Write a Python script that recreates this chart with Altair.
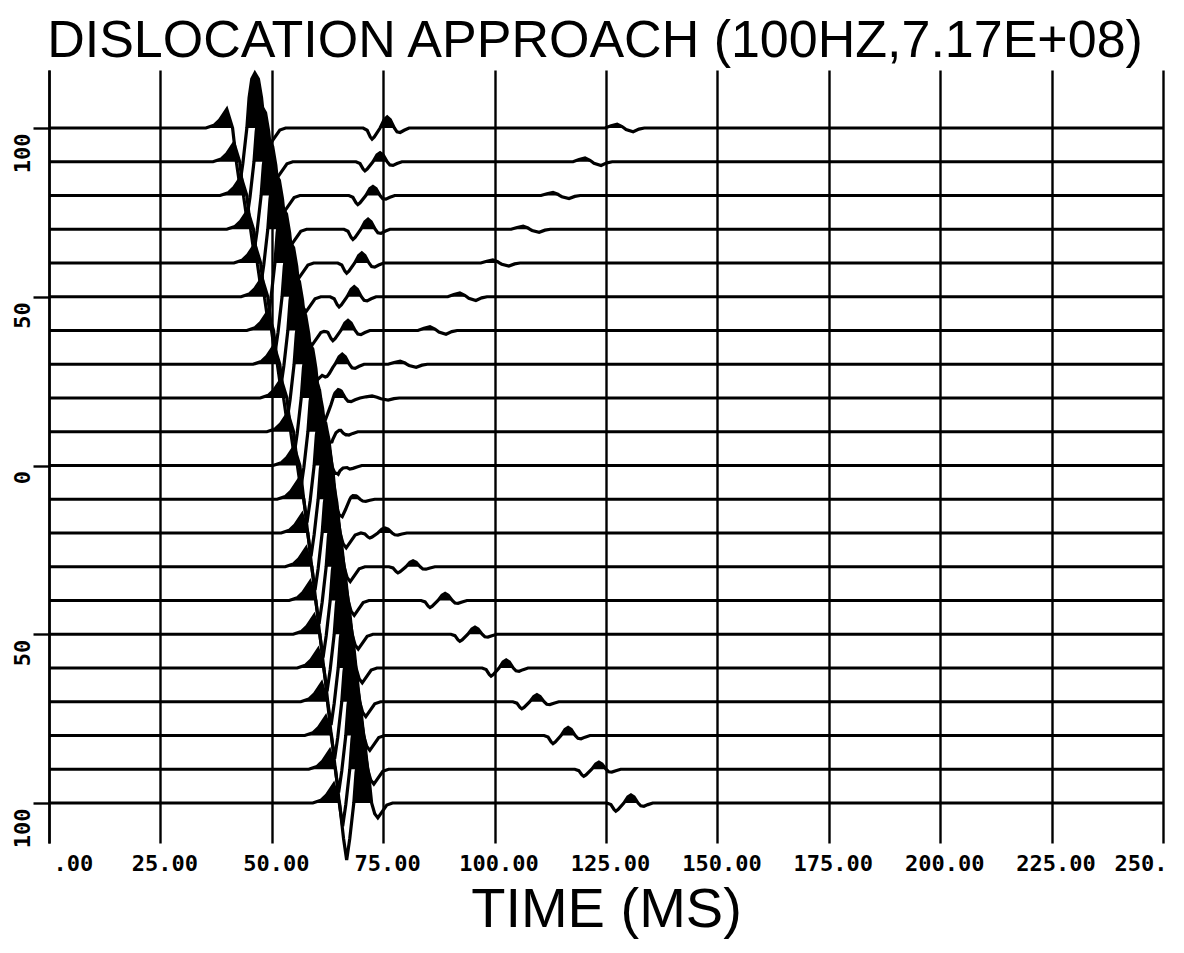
import altair as alt
import numpy as np
import pandas as pd

# trace offsets (y positions of the 21 traces)
OFFSETS = [100, 90, 80, 70, 60, 50, 40, 30, 20, 10, 0,
           -10, -20, -30, -40, -50, -60, -70, -80, -90, -100]

# main (direct) arrival: time of the big positive peak on each trace, ms
MAIN_PEAK_MS = [46.2, 47.8, 49.4, 50.9, 52.5, 54.1, 55.4, 56.8, 58.4, 59.9, 61.3,
                62.2, 63.1, 64.0, 64.9, 65.8, 66.7, 67.5, 68.4, 69.3, 70.2]
# main wavelet (time relative to peak in ms, amplitude in y units)
MAIN_W_T = [-11.0, -9.2, -7.9, -7.0, -6.3, -5.0, -4.1, -3.4, -2.7, -1.8, -1.3, -0.7,
            0.0, 0.8, 1.5, 2.2, 2.9, 3.6, 4.5, 5.6, 6.9]
MAIN_W_A = [0.0, 0.8, 2.4, 4.2, 5.6, 0.0, -10.5, -16.9, -10.5, 0.0, 9.0, 14.5,
            16.3, 14.5, 9.0, 0.0, -3.2, -4.4, -2.7, -0.6, 0.0]

# secondary arrival (trough then small filled peak): peak time and amplitude per trace
SEC_PEAK_MS = [75.9, 74.3, 72.7, 71.6, 70.2, 68.5, 67.1, 65.8, 64.9, 64.4, 65.3,
               68.2, 75.4, 81.7, 88.9, 95.6, 102.6, 109.5, 116.5, 123.4, 130.6]
SEC_AMP = [3.3, 2.7, 2.7, 3.0, 3.0, 3.0, 3.0, 3.0, 2.7, 2.4, 2.1,
           1.5, 1.5, 1.8, 2.1, 2.1, 2.4, 2.1, 2.4, 2.1, 2.4]
SEC_W_T = [-5.4, -4.5, -3.8, -3.4, -2.9, -1.6, -0.7, 0.0, 0.7, 1.6, 2.2, 2.9, 3.8, 4.9]
SEC_W_A = [0.0, -0.2, -0.8, -1.0, -0.8, 0.0, 0.75, 1.0, 0.75, 0.0, -0.35, -0.4, -0.2, 0.0]

# weak third arrival on the upper traces (bump then dip): bump time and amplitude
THIRD_PEAK_MS = [127.5, 120.3, 113.1, 106.4, 99.6, 92.2, 85.5, 78.8, 72.5]
THIRD_AMP = [1.1, 1.1, 0.9, 0.9, 0.9, 1.1, 1.1, 0.9, 0.6]
THIRD_W_T = [-2.7, -1.35, 0.0, 1.1, 2.0, 3.6, 4.9, 6.1]
THIRD_W_A = [0.0, 0.6, 1.0, 0.4, -0.4, -1.0, -0.3, 0.0]

X_TICKS = [0, 25, 50, 75, 100, 125, 150, 175, 200, 225, 250]
Y_TICKS = [100, 50, 0, -50, -100]

rows = []
for i, off in enumerate(OFFSETS):
    events = [(MAIN_PEAK_MS[i], MAIN_W_T, MAIN_W_A, 1.0),
              (SEC_PEAK_MS[i], SEC_W_T, SEC_W_A, SEC_AMP[i])]
    if i < len(THIRD_PEAK_MS):
        events.append((THIRD_PEAK_MS[i], THIRD_W_T, THIRD_W_A, THIRD_AMP[i]))
    ts = {0.0, 250.0}
    for t0, wt, wa, s in events:
        ts.update((t0 + np.array(wt)).tolist())
    ts = sorted(ts)

    def val(t):
        return sum(s * np.interp(t, t0 + np.array(wt), wa, left=0.0, right=0.0)
                   for t0, wt, wa, s in events)

    vs = [float(val(t)) for t in ts]
    pts = []
    for k in range(len(ts)):
        if k > 0 and vs[k - 1] * vs[k] < 0:
            tz = ts[k - 1] + (ts[k] - ts[k - 1]) * vs[k - 1] / (vs[k - 1] - vs[k])
            pts.append((tz, 0.0))
        pts.append((ts[k], vs[k]))
    for k, (t, v) in enumerate(pts):
        rows.append({"trace": i, "k": k, "t": t, "y": off + v,
                     "top": off + max(v, 0.0), "base": float(off)})

df = pd.DataFrame(rows).sort_values(["trace", "k"]).reset_index(drop=True)

xscale = alt.Scale(domain=[0, 250], nice=False, zero=False)
yscale = alt.Scale(domain=[-111.85, 117.19], nice=False, zero=False)

x_axis = alt.Axis(
    values=X_TICKS, grid=True, gridColor="black", gridOpacity=1, gridWidth=2.4,
    ticks=False, domain=False, labelFont="DejaVu Sans Mono", labelFontWeight="bold",
    labelFontSize=22, labelColor="black", labelPadding=10, labelFlush=True, labelOffset=4,
    labelExpr="datum.value == 0 ? '.00' : (datum.value == 250 ? '250.' : format(datum.value, '.2f'))",
    title="TIME (MS)", titleFont="Liberation Sans", titleFontWeight="normal",
    titleFontSize=56, titleColor="black", titlePadding=8,
)
y_axis = alt.Axis(
    values=Y_TICKS, grid=False, domain=True, domainColor="black", domainWidth=2.4,
    ticks=True, tickColor="black", tickWidth=2.4, tickSize=16,
    labelFont="DejaVu Sans Mono", labelFontWeight="bold", labelFontSize=22,
    labelColor="black", labelAngle=270, labelAlign="right", labelBaseline="alphabetic",
    labelPadding=4, labelOffset=5, labelExpr="'' + abs(datum.value)", title=None,
)

fill = alt.Chart(df).mark_area(
    fill="black", fillOpacity=1, strokeWidth=0, interpolate="linear"
).encode(
    x=alt.X("t:Q", scale=xscale, axis=x_axis),
    y=alt.Y("top:Q", scale=yscale, axis=y_axis, stack=None),
    y2=alt.Y2("base:Q"),
    detail="trace:N",
)
lines = alt.Chart(df).mark_line(color="black", strokeWidth=3.2, interpolate="linear").encode(
    x=alt.X("t:Q", scale=xscale, axis=x_axis),
    y=alt.Y("y:Q", scale=yscale, axis=y_axis),
    detail="trace:N",
    order="k:Q",
)

chart = alt.layer(fill, lines).properties(
    width=1114, height=773, autosize="none",
    padding={"left": 41, "top": 62, "right": 13, "bottom": 100},
    title=alt.Title("DISLOCATION APPROACH (100HZ,7.17E+08)", fontSize=52,
                    font="Liberation Sans", fontWeight="normal", color="black",
                    anchor="middle", offset=-1, dx=-11),
    background="white",
).configure_view(stroke=None)

chart.save("out.html", embed_options={"renderer": "svg", "actions": False})
